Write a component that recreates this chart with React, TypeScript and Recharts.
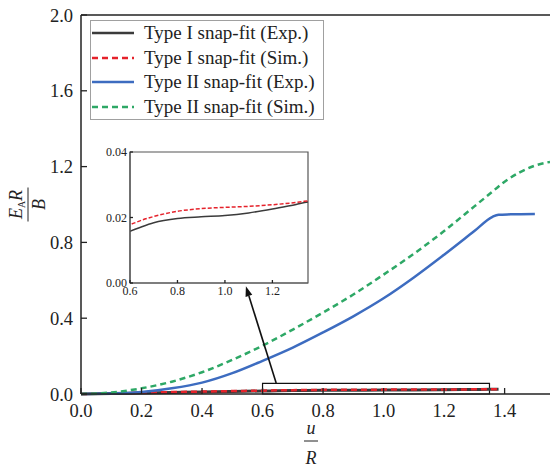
import {
  LineChart,
  Line,
  XAxis,
  YAxis,
  ReferenceArea,
  ReferenceLine,
} from 'recharts';

const serif = '"Liberation Serif", "Times New Roman", Times, serif';

// u/R positions and E_A R / B values
const uTypeI = [0, 0.1, 0.2, 0.3, 0.4, 0.5, 0.6, 0.65, 0.7, 0.8, 0.9, 1.0, 1.1, 1.2, 1.3, 1.35, 1.38];
const typeIExp = [0, 0.002, 0.005, 0.008, 0.011, 0.0135, 0.0158, 0.0172, 0.0184, 0.0197, 0.0202, 0.0206, 0.0214, 0.0226, 0.024, 0.0247, 0.025];
const typeISim = [0, 0.003, 0.007, 0.01, 0.013, 0.0155, 0.0178, 0.0192, 0.0203, 0.0219, 0.0227, 0.0231, 0.0234, 0.0239, 0.0246, 0.0251, 0.0254];

const uTypeIIExp = [0, 0.1, 0.2, 0.3, 0.4, 0.5, 0.6, 0.7, 0.8, 0.9, 1.0, 1.1, 1.2, 1.3, 1.36, 1.38, 1.42, 1.5];
const typeIIExp = [0, 0.002, 0.01, 0.03, 0.06, 0.11, 0.175, 0.245, 0.325, 0.41, 0.505, 0.615, 0.735, 0.86, 0.935, 0.946, 0.948, 0.95];

const uTypeIISim = [0, 0.1, 0.2, 0.3, 0.4, 0.5, 0.6, 0.7, 0.8, 0.9, 1.0, 1.1, 1.2, 1.3, 1.35, 1.4, 1.45, 1.5, 1.55];
const typeIISim = [0, 0.008, 0.03, 0.065, 0.115, 0.18, 0.255, 0.34, 0.43, 0.525, 0.63, 0.74, 0.86, 0.99, 1.055, 1.12, 1.17, 1.205, 1.225];

const xTicks = [0, 0.2, 0.4, 0.6, 0.8, 1.0, 1.2, 1.4];
const yTicks = [0, 0.4, 0.8, 1.2, 1.6, 2.0];
const insetXTicks = [0.6, 0.8, 1.0, 1.2];
const insetYTicks = [0, 0.02, 0.04];

const seriesNames = [
  'Type I snap-fit (Exp.)',
  'Type I snap-fit (Sim.)',
  'Type II snap-fit (Exp.)',
  'Type II snap-fit (Sim.)',
];

const toPoints = (xs: number[], ys: number[]) => xs.map((x, i) => ({x, y: ys[i]}));

const expI = toPoints(uTypeI, typeIExp);
const simI = toPoints(uTypeI, typeISim);
const expII = toPoints(uTypeIIExp, typeIIExp);
const simII = toPoints(uTypeIISim, typeIISim);

const styles = [
  {color: '#3b3b3b', dash: undefined as string | undefined},
  {color: '#e5222b', dash: '6 4'},
  {color: '#3d6cc0', dash: undefined},
  {color: '#2ea866', dash: '6 4'},
];

const makeXTick = (len: number, font: number, gap: number, dec: number) => (props: any) => {
  const {x, y, payload} = props;
  return (
    <g>
      <line x1={x} y1={y} x2={x} y2={y - len} stroke="#222" strokeWidth={1.3} />
      <text x={x} y={y + gap} dy="0.71em" textAnchor="middle" fill="#222"
        style={{fontFamily: serif, fontSize: font}}>
        {Number(payload.value).toFixed(dec)}
      </text>
    </g>
  );
};

const makeYTick = (len: number, font: number, gap: number, dec: number) => (props: any) => {
  const {x, y, payload} = props;
  return (
    <g>
      <line x1={x} y1={y} x2={x + len} y2={y} stroke="#222" strokeWidth={1.3} />
      <text x={x - gap} y={y} dy="0.355em" textAnchor="end" fill="#222"
        style={{fontFamily: serif, fontSize: font}}>
        {Number(payload.value).toFixed(dec)}
      </text>
    </g>
  );
};

const MainXTick = makeXTick(6, 18.5, 10, 1);
const MainYTick = makeYTick(6, 18.5, 8, 1);
const InsetXTick = makeXTick(3, 12, 3, 1);
const InsetYTick = makeYTick(3, 12, 3, 2);

const XLabel = (props: any) => {
  const {viewBox} = props;
  const cx = viewBox.x + viewBox.width / 2 - 4.5;
  const y = viewBox.y;
  return (
    <g fill="#222" style={{fontFamily: serif, fontSize: 18, fontStyle: 'italic'}}>
      <text x={cx} y={y + 40} textAnchor="middle">u</text>
      <line x1={cx - 7} y1={y + 47} x2={cx + 7} y2={y + 47} stroke="#222" strokeWidth={1} />
      <text x={cx} y={y + 70} textAnchor="middle">R</text>
    </g>
  );
};

const YLabel = (props: any) => {
  const {viewBox} = props;
  const cx = viewBox.x + 28;
  const cy = viewBox.y + viewBox.height / 2;
  return (
    <g transform={`translate(${cx},${cy}) rotate(-90)`} fill="#222"
      style={{fontFamily: serif, fontSize: 18}}>
      <text x={0} y={-6} textAnchor="middle">
        <tspan fontStyle="italic">E</tspan>
        <tspan fontSize={10} dy={3}>A</tspan>
        <tspan fontStyle="italic" dy={-3}>R</tspan>
      </text>
      <line x1={-17} y1={0} x2={17} y2={0} stroke="#222" strokeWidth={1} />
      <text x={0} y={17} textAnchor="middle" fontStyle="italic">B</text>
    </g>
  );
};

const Arrow = (props: any) => {
  const {x1, y1, x2, y2} = props;
  if (x1 == null || x2 == null) return null;
  const ang = Math.atan2(y2 - y1, x2 - x1);
  const len = 10;
  const w = 3.5;
  const bx = x2 - len * Math.cos(ang);
  const by = y2 - len * Math.sin(ang);
  const px = -Math.sin(ang) * w;
  const py = Math.cos(ang) * w;
  return (
    <g>
      <line x1={x1} y1={y1} x2={bx} y2={by} stroke="#111" strokeWidth={1.6} />
      <polygon points={`${x2},${y2} ${bx + px},${by + py} ${bx - px},${by - py}`} fill="#111" />
    </g>
  );
};

const Legend = () => (
  <div
    style={{
      position: 'absolute',
      left: 90,
      top: 20,
      width: 232,
      height: 98,
      border: '1px solid #a0a0a0',
      background: '#fff',
      fontFamily: serif,
      fontSize: 19,
      color: '#222',
    }}
  >
    {seriesNames.map((name, i) => (
      <div key={name} style={{height: 24.5, display: 'flex', alignItems: 'center'}}>
        <svg width={50} height={10} style={{marginLeft: 1, flex: 'none'}}>
          <line x1={0} y1={5} x2={42} y2={5} stroke={styles[i].color} strokeWidth={2.5}
            strokeDasharray={styles[i].dash} />
        </svg>
        <span style={{marginLeft: 2, whiteSpace: 'nowrap'}}>{name}</span>
      </div>
    ))}
  </div>
);

const Inset = () => (
  <div style={{position: 'absolute', left: 90, top: 140}}>
    <LineChart width={230} height={170} margin={{top: 12, right: 12, bottom: 0, left: 0}}>
      <XAxis dataKey="x" type="number" domain={[0.6, 1.35]} allowDataOverflow ticks={insetXTicks}
        height={27} tickSize={0} tickMargin={0} stroke="#555" strokeWidth={1.2}
        tick={InsetXTick} />
      <YAxis type="number" domain={[0, 0.04]} allowDataOverflow ticks={insetYTicks} width={40}
        tickSize={0} tickMargin={0} stroke="#555" strokeWidth={1.2}
        tick={InsetYTick} />
      <Line data={expI} dataKey="y" type="monotone" stroke={styles[0].color} strokeWidth={1.5}
        dot={false} isAnimationActive={false} />
      <Line data={simI} dataKey="y" type="monotone" stroke={styles[1].color} strokeWidth={1.5}
        strokeDasharray="4 2" dot={false} isAnimationActive={false} />
      <ReferenceArea x1={0.6} x2={1.35} y1={0} y2={0.04} fill="none" stroke="#555" strokeWidth={1.2} />
    </LineChart>
  </div>
);

export default function App() {
  return (
    <div style={{position: 'absolute', left: 0, top: 0, width: 550, height: 467, background: '#fff', overflow: 'hidden'}}>
      <LineChart width={550} height={467} margin={{top: 15, right: 0, bottom: 0, left: 0}}>
        <XAxis dataKey="x" type="number" domain={[0, 1.55]} allowDataOverflow ticks={xTicks}
          height={73} tickSize={0} tickMargin={0} stroke="#222" strokeWidth={1.5}
          tick={MainXTick} label={{content: XLabel}} />
        <YAxis type="number" domain={[0, 2]} ticks={yTicks} width={81} tickSize={0} tickMargin={0}
          stroke="#222" strokeWidth={1.5} tick={MainYTick} label={{content: YLabel}} />
        <ReferenceLine y={2} stroke="#222" strokeWidth={1.5} />
        <Line data={expI} dataKey="y" name={seriesNames[0]} type="monotone" stroke={styles[0].color}
          strokeWidth={3} dot={false} isAnimationActive={false} />
        <Line data={simI} dataKey="y" name={seriesNames[1]} type="monotone" stroke={styles[1].color}
          strokeWidth={2.5} strokeDasharray={styles[1].dash} dot={false} isAnimationActive={false} />
        <Line data={expII} dataKey="y" name={seriesNames[2]} type="monotone" stroke={styles[2].color}
          strokeWidth={2.5} dot={false} isAnimationActive={false} />
        <Line data={simII} dataKey="y" name={seriesNames[3]} type="monotone" stroke={styles[3].color}
          strokeWidth={2.5} strokeDasharray={styles[3].dash} dot={false} isAnimationActive={false} />
        <ReferenceArea x1={0.6} x2={1.35} y1={0} y2={0.056} fill="none" stroke="#111" strokeWidth={1.2} />
        <ReferenceLine segment={[{x: 0.645, y: 0.058}, {x: 0.545, y: 0.568}]} shape={Arrow} />
      </LineChart>
      <Inset />
      <Legend />
    </div>
  );
}
